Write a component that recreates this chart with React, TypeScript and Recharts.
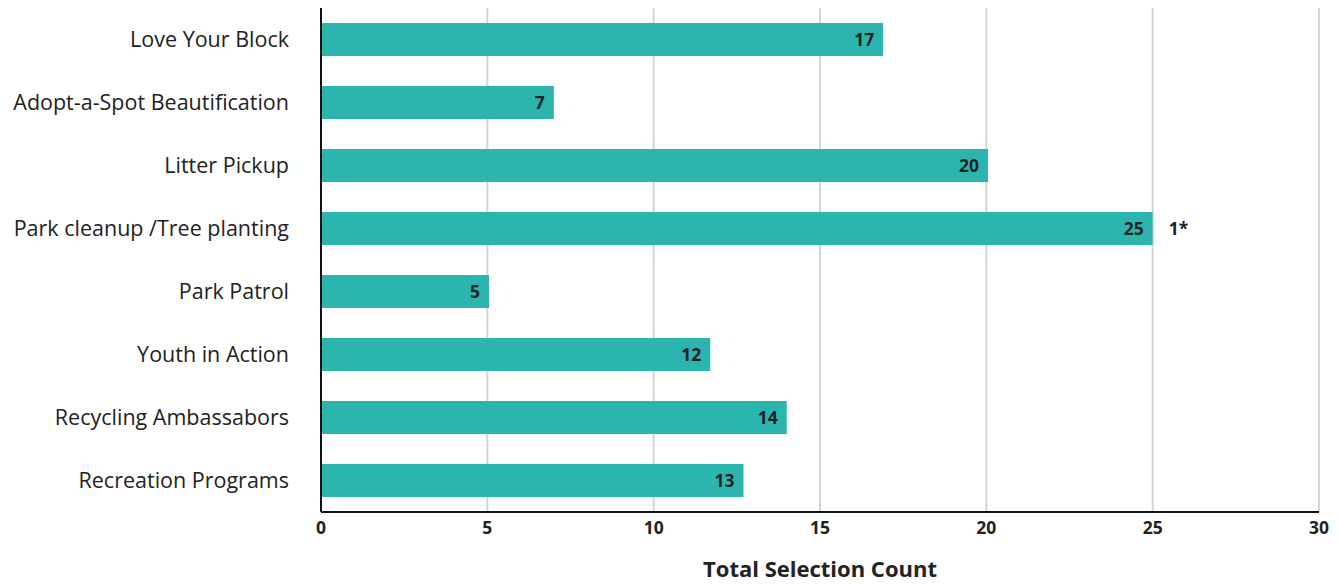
import React from "react";
import { BarChart, Bar, XAxis, YAxis, CartesianGrid, LabelList } from "recharts";

const categories = [
  "Love Your Block",
  "Adopt-a-Spot Beautification",
  "Litter Pickup",
  "Park cleanup /Tree planting",
  "Park Patrol",
  "Youth in Action",
  "Recycling Ambassabors",
  "Recreation Programs",
];
const counts = [16.9, 7.0, 20.05, 25.0, 5.05, 11.7, 14.0, 12.7];
const countLabels = ["17", "7", "20", "25", "5", "12", "14", "13"];
const notes = ["", "", "", "1*", "", "", "", ""];
const xTicks = [0, 5, 10, 15, 20, 25, 30];

const data = categories.map((name, i) => ({
  name,
  count: counts[i],
  label: countLabels[i],
  note: notes[i],
}));

const FONT = "'Open Sans', 'Noto Sans', sans-serif";
const TEXT = "#222222";

export default function App() {
  return (
    <div style={{ width: 1330, height: 578 }}>
      <BarChart
        width={1330}
        height={578}
        data={data}
        layout="vertical"
        margin={{ top: 0, right: 19, bottom: 0, left: 0 }}
        barCategoryGap="24%"
      >
        <CartesianGrid horizontal={false} vertical={true} stroke="#d4d4d4" strokeWidth={2} />
        <XAxis
          type="number"
          domain={[0, 30]}
          ticks={xTicks}
          tickLine={false}
          tickSize={0}
          tickMargin={10}
          axisLine={{ stroke: "#111", strokeWidth: 2 }}
          height={74}
          tick={{ fill: TEXT, fontSize: 17.5, fontWeight: 700, fontFamily: FONT }}
          label={{
            value: "Total Selection Count",
            position: "insideBottom",
            offset: 9,
            fill: TEXT,
            fontSize: 22,
            fontWeight: 700,
            fontFamily: FONT,
          }}
        />
        <YAxis
          type="category"
          dataKey="name"
          width={313}
          tickLine={false}
          tickSize={0}
          tickMargin={32}
          axisLine={{ stroke: "#111", strokeWidth: 2 }}
          tick={{ fill: TEXT, fontSize: 21.5, fontFamily: FONT }}
        />
        <Bar dataKey="count" fill="#2CB5AE" isAnimationActive={false}>
          <LabelList
            dataKey="label"
            position="insideRight"
            offset={9}
            fill={TEXT}
            fontSize={17.5}
            fontWeight={700}
            fontFamily={FONT}
          />
          <LabelList
            dataKey="note"
            position="right"
            offset={16}
            fill={TEXT}
            fontSize={17.5}
            fontWeight={700}
            fontFamily={FONT}
          />
        </Bar>
      </BarChart>
    </div>
  );
}
